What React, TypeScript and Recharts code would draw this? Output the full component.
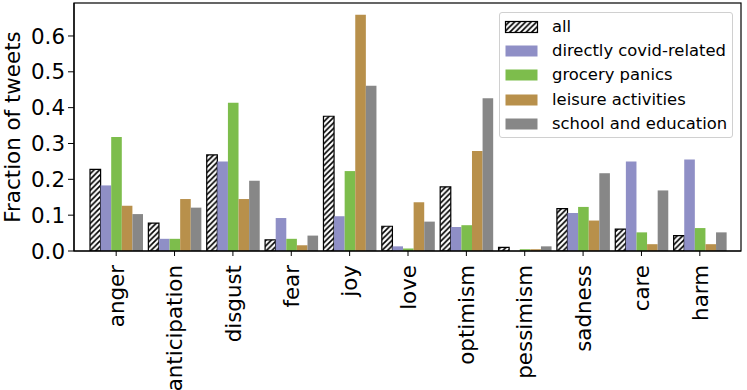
import React from 'react';
import { BarChart, Bar, XAxis, YAxis, Legend } from 'recharts';

const categories = ['anger', 'anticipation', 'disgust', 'fear', 'joy', 'love', 'optimism', 'pessimism', 'sadness', 'care', 'harm'];
const allValues = [0.228, 0.078, 0.268, 0.031, 0.376, 0.069, 0.179, 0.010, 0.118, 0.061, 0.043];
const covidValues = [0.183, 0.034, 0.250, 0.092, 0.097, 0.013, 0.067, 0.0, 0.106, 0.250, 0.255];
const groceryValues = [0.318, 0.034, 0.414, 0.034, 0.223, 0.007, 0.072, 0.005, 0.123, 0.052, 0.064];
const leisureValues = [0.126, 0.145, 0.145, 0.016, 0.659, 0.136, 0.279, 0.005, 0.085, 0.019, 0.019];
const schoolValues = [0.103, 0.121, 0.196, 0.043, 0.461, 0.082, 0.426, 0.013, 0.217, 0.169, 0.052];

const seriesNames = ['all', 'directly covid-related', 'grocery panics', 'leisure activities', 'school and education'];
const seriesKeys = ['all', 'covid', 'grocery', 'leisure', 'school'];
const seriesColors = ['url(#hatch)', '#8f8fc6', '#7dbd4c', '#b8904b', '#878787'];
const yTicks = [0, 0.1, 0.2, 0.3, 0.4, 0.5, 0.6];

const data = categories.map((c, i) => ({
  name: c,
  all: allValues[i],
  covid: covidValues[i],
  grocery: groceryValues[i],
  leisure: leisureValues[i],
  school: schoolValues[i],
}));

const FONT = '"DejaVu Sans", sans-serif';

const W = 747;
const H = 390;
const M = { top: 3, right: 6, bottom: 0, left: 0 };
const Y_AXIS_W = 74;
const X_AXIS_H = 139;

const XTick = (props: any) => {
  const { x, payload } = props;
  return (
    <g transform={`translate(${x},265)`}>
      <text transform="rotate(-90)" textAnchor="end" dy="0.36em" fontSize={21.4} fontFamily={FONT} fill="#000">
        {payload.value}
      </text>
    </g>
  );
};

const YLabel = (props: any) => {
  const vb = props.viewBox || { y: 3, height: 248 };
  const cy = vb.y + vb.height / 2;
  return (
    <text x={0} y={0} transform={`translate(12.5,${cy}) rotate(-90)`} textAnchor="middle" dy="0.35em" fontSize={21.4} fontFamily={FONT} fill="#000">
      Fraction of tweets
    </text>
  );
};

const LegendContent = () => (
  <div
    style={{
      width: 234,
      height: 126,
      boxSizing: 'border-box',
      border: '1px solid #d0d0d0',
      borderRadius: 3,
      background: 'rgba(255,255,255,0.85)',
      fontFamily: FONT,
      fontSize: 16.4,
      color: '#000',
      paddingTop: 1.5,
    }}
  >
    {seriesNames.map((n, i) => (
      <div key={n} style={{ height: 24.3, display: 'flex', alignItems: 'center', whiteSpace: 'nowrap' }}>
        <svg width={52} height={14} style={{ flex: '0 0 auto' }}>
          <rect
            x={5.5}
            y={1.5}
            width={32}
            height={11}
            fill={seriesColors[i]}
            stroke={i === 0 ? '#000' : 'none'}
            strokeWidth={1.2}
          />
        </svg>
        <span style={{ lineHeight: '16px' }}>{n}</span>
      </div>
    ))}
  </div>
);

export default function App() {
  const plotX = M.left + Y_AXIS_W;
  const plotY = M.top;
  const plotW = W - M.left - M.right - Y_AXIS_W;
  const plotH = H - M.top - M.bottom - X_AXIS_H;
  return (
    <div style={{ position: 'absolute', left: 0, top: 0, width: W, height: H, background: '#fff', overflow: 'hidden' }}>
      <svg width={0} height={0} style={{ position: 'absolute' }}>
        <defs>
          <pattern id="hatch" patternUnits="userSpaceOnUse" width={5.5} height={5.5}>
            <rect width={5.5} height={5.5} fill="#fff" />
            <path d="M-1,1 L1,-1 M0,5.5 L5.5,0 M4.5,6.5 L6.5,4.5" stroke="#000" strokeWidth={1.7} />
          </pattern>
        </defs>
      </svg>
      <BarChart
        width={W}
        height={H}
        data={data}
        margin={M}
        barGap={0}
        barCategoryGap={2.7}
      >
        <XAxis
          dataKey="name"
          type="category"
          height={X_AXIS_H}
          padding={{ left: 13, right: 12 }}
          tick={<XTick />}
          tickSize={5}
          tickLine={{ stroke: '#000', strokeWidth: 1 }}
          axisLine={{ stroke: '#000', strokeWidth: 1.2 }}
          interval={0}
        />
        <YAxis
          type="number"
          domain={[0, 0.692]}
          ticks={yTicks}
          width={Y_AXIS_W}
          tickFormatter={(v: number) => v.toFixed(1)}
          tick={{ fontSize: 21.4, fontFamily: FONT, fill: '#000' }}
          tickSize={6}
          tickMargin={3}
          tickLine={{ stroke: '#000', strokeWidth: 1 }}
          axisLine={{ stroke: '#000', strokeWidth: 1.2 }}
          allowDataOverflow
          label={<YLabel />}
        />
        <Legend
          layout="vertical"
          align="center"
          verticalAlign="middle"
          content={<LegendContent />}
          wrapperStyle={{ top: 12, left: 499, right: 'auto', bottom: 'auto', width: 234, height: 126 }}
        />
        {seriesKeys.map((k, i) => (
          <Bar
            key={k}
            dataKey={k}
            name={seriesNames[i]}
            fill={seriesColors[i]}
            stroke={i === 0 ? '#000' : 'none'}
            strokeWidth={i === 0 ? 1.2 : 0}
            barSize={10.6}
            isAnimationActive={false}
          />
        ))}
      </BarChart>
      <svg width={W} height={H} style={{ position: 'absolute', left: 0, top: 0, pointerEvents: 'none' }}>
        <rect x={plotX} y={plotY} width={plotW} height={plotH} fill="none" stroke="#000" strokeWidth={1.2} />
      </svg>
    </div>
  );
}
